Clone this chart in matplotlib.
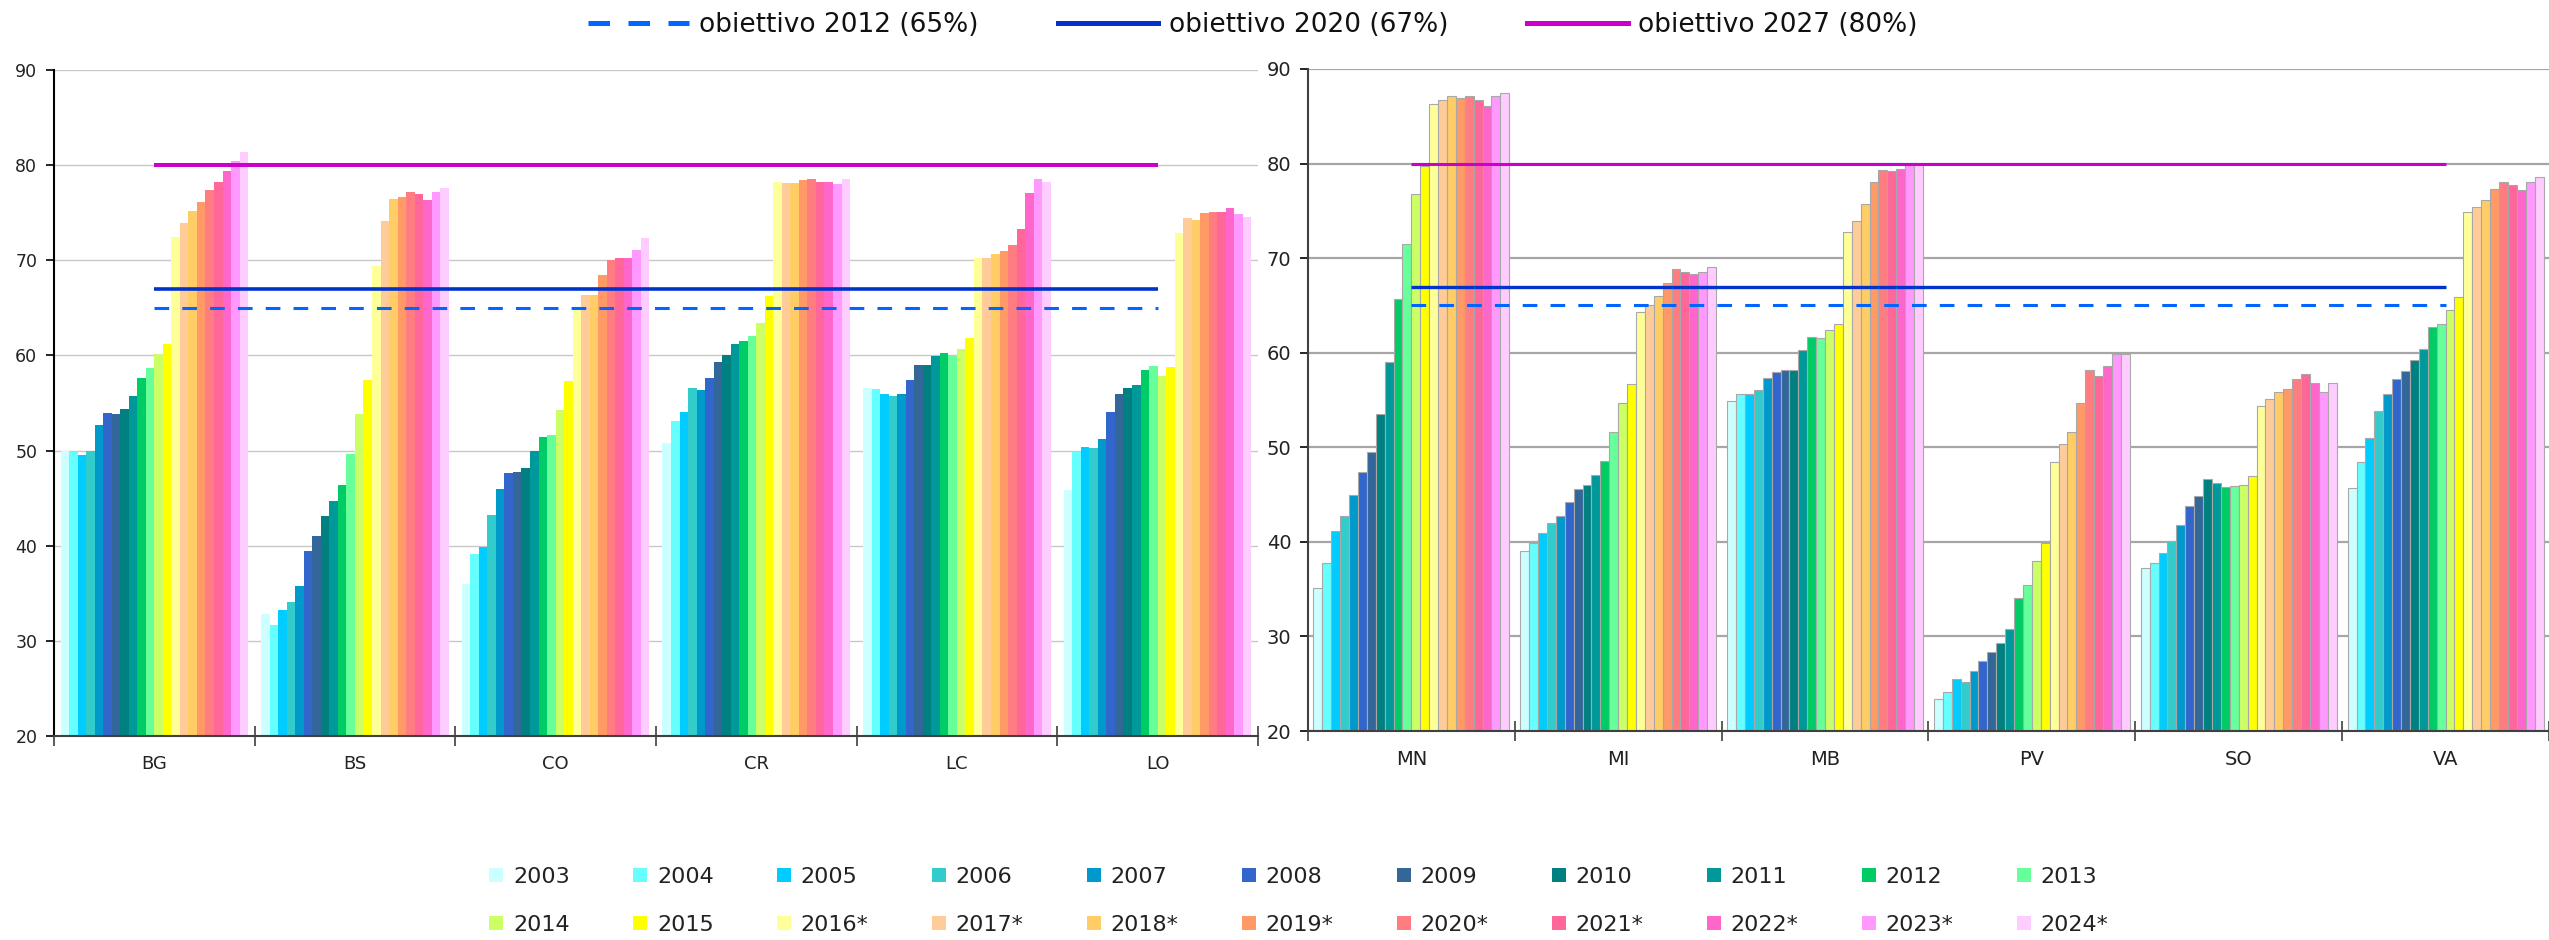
import matplotlib
matplotlib.use("Agg")
import matplotlib.pyplot as plt
import numpy as np
from matplotlib.lines import Line2D
from matplotlib.patches import Patch

years = ["2003", "2004", "2005", "2006", "2007", "2008", "2009", "2010", "2011",
         "2012", "2013", "2014", "2015", "2016*", "2017*", "2018*", "2019*",
         "2020*", "2021*", "2022*", "2023*", "2024*"]
year_colors = ["#CCFFFF", "#66FFFF", "#00CCFF", "#33CCCC", "#0099CC", "#3366CC",
               "#336699", "#008080", "#009999", "#00CC66", "#66FF99", "#CCFF66",
               "#FFFF00", "#FFFF99", "#FFCC99", "#FFCC66", "#FF9966", "#FF7C80",
               "#FF6699", "#FF66CC", "#FF99FF", "#FFCCFF"]

left_cats = ["BG", "BS", "CO", "CR", "LC", "LO"]
right_cats = ["MN", "MI", "MB", "PV", "SO", "VA"]

bg = [50.0, 49.8, 49.5, 50.0, 52.7, 53.9, 53.8, 54.4, 55.7, 57.6, 58.7, 60.2, 61.2,
      72.4, 73.9, 75.2, 76.1, 77.4, 78.2, 79.4, 80.4, 81.4]
bs = [32.8, 31.7, 33.2, 34.1, 35.8, 39.4, 41.0, 43.1, 44.7, 46.4, 49.6, 53.8, 57.4,
      69.4, 74.1, 76.4, 76.7, 77.2, 77.0, 76.3, 77.2, 77.6]
co = [36.0, 39.1, 39.9, 43.2, 46.0, 47.6, 47.8, 48.2, 50.0, 51.4, 51.6, 54.3, 57.3,
      64.8, 66.4, 66.4, 68.5, 70.0, 70.2, 70.2, 71.1, 72.3]
cr = [50.8, 53.1, 54.1, 56.6, 56.4, 57.6, 59.3, 60.0, 61.2, 61.5, 62.0, 63.4, 66.2,
      78.2, 78.1, 78.1, 78.4, 78.5, 78.2, 78.2, 78.0, 78.5]
lc = [56.6, 56.5, 55.9, 55.7, 55.9, 57.4, 59.0, 59.0, 59.9, 60.3, 60.1, 60.7, 61.8,
      70.2, 70.2, 70.7, 71.0, 71.6, 73.3, 77.1, 78.5, 78.2]
lo = [45.9, 49.9, 50.4, 50.3, 51.2, 54.1, 55.9, 56.6, 56.9, 58.5, 58.9, 57.8, 58.8,
      72.9, 74.4, 74.2, 75.0, 75.1, 75.1, 75.5, 74.9, 74.6]

mn = [35.1, 37.8, 41.2, 42.7, 45.0, 47.4, 49.5, 53.5, 59.0, 65.7, 71.5, 76.8, 79.7,
      86.3, 86.7, 87.1, 86.9, 87.1, 86.7, 86.1, 87.1, 87.5]
mi = [39.0, 39.9, 40.9, 42.0, 42.7, 44.2, 45.6, 46.0, 47.1, 48.6, 51.6, 54.7, 56.7,
      64.3, 65.0, 66.0, 67.4, 68.9, 68.5, 68.3, 68.5, 69.1]
mb = [54.9, 55.6, 55.6, 56.1, 57.3, 58.0, 58.2, 58.2, 60.3, 61.7, 61.6, 62.4, 63.0,
      72.8, 73.9, 75.7, 78.1, 79.3, 79.2, 79.4, 79.8, 80.0]
pv = [23.4, 24.1, 25.5, 25.2, 26.3, 27.4, 28.4, 29.3, 30.8, 34.1, 35.4, 38.0, 39.9,
      48.4, 50.3, 51.6, 54.7, 58.2, 57.5, 58.6, 59.9, 59.9]
so = [37.2, 37.8, 38.8, 40.1, 41.8, 43.8, 44.9, 46.6, 46.2, 45.8, 45.9, 46.0, 47.0,
      54.4, 55.1, 55.8, 56.2, 57.2, 57.7, 56.8, 55.8, 56.8]
va = [45.7, 48.4, 51.0, 53.8, 55.6, 57.2, 58.1, 59.2, 60.4, 62.7, 63.0, 64.5, 65.9,
      74.9, 75.4, 76.2, 77.3, 78.1, 77.7, 77.2, 78.1, 78.6]

left_values = [bg, bs, co, cr, lc, lo]
right_values = [mn, mi, mb, pv, so, va]

target_labels = ["obiettivo 2012 (65%)", "obiettivo 2020 (67%)", "obiettivo 2027 (80%)"]
target_values = [65, 67, 80]
target_colors = ["#0066FF", "#0033CC", "#CC00CC"]


def draw_panel(ax, cats, values, group_width, edge, grid_color, grid_lw,
               tick_size, cat_size, line_widths):
    x = np.arange(len(cats))
    n = len(years)
    w = group_width / n
    for j in range(n):
        heights = [values[c][j] for c in range(len(cats))]
        ax.bar(x + (j - (n - 1) / 2) * w, heights, width=w, color=year_colors[j],
               edgecolor=edge, linewidth=0.8 if edge != "none" else 0, zorder=2)

    for k, (val, col) in enumerate(zip(target_values, target_colors)):
        ls = (0, (4.8, 4.3)) if k == 0 else "-"
        ax.plot(x, [val] * len(x), color=col, lw=line_widths[k], ls=ls, zorder=3,
                solid_capstyle="butt")

    ax.set_xlim(-0.5, len(cats) - 0.5)
    ax.set_ylim(20, 90)
    ax.set_yticks(range(20, 91, 10))
    ax.set_xticks(x)
    ax.set_xticklabels(cats, fontsize=cat_size, color="#222222")
    ax.set_xticks(np.arange(len(cats) + 1) - 0.5, minor=True)
    ax.tick_params(axis="x", which="major", length=0, pad=14)
    ax.tick_params(axis="x", which="minor", length=14, direction="inout",
                   width=1.2, color="#404040")
    ax.tick_params(axis="y", length=6, width=1.2, labelsize=tick_size,
                   labelcolor="#222222", pad=6)
    ax.grid(axis="y", color=grid_color, lw=grid_lw, zorder=0)
    ax.set_axisbelow(True)
    for s in ["top", "right"]:
        ax.spines[s].set_visible(False)
    ax.spines["bottom"].set_color("#404040")
    ax.spines["bottom"].set_linewidth(1.5)
    ax.spines["left"].set_linewidth(1.5)


fig = plt.figure(figsize=(25.49, 9.40), dpi=100)
ax_l = fig.add_axes([0.02118, 0.2170, 0.4723, 0.7085])
ax_r = fig.add_axes([0.5131, 0.2223, 0.4869, 0.7043])

draw_panel(ax_l, left_cats, left_values, 0.935, "none", "#C8C8C8", 1.0,
           12.5, 13, [2.2, 2.6, 2.9])
ax_l.spines["left"].set_color("black")
draw_panel(ax_r, right_cats, right_values, 0.947, "#A8A8A8", "#A6A6A6", 1.6,
           14, 14, [2.2, 2.4, 2.2])
ax_r.spines["left"].set_color("#404040")

# legend on top for the targets
top_handles = [
    Line2D([], [], color=target_colors[0], lw=3.6, ls=(0, (4.3, 3.7))),
    Line2D([], [], color=target_colors[1], lw=3.6),
    Line2D([], [], color=target_colors[2], lw=3.6),
]
fig.legend(top_handles, target_labels, loc="center", bbox_to_anchor=(0.4916, 0.973),
           ncol=3, frameon=False, fontsize=19, handlelength=3.8, handletextpad=0.4,
           columnspacing=3.0, labelcolor="#111111")

# legend at the bottom for the years, filled row by row (11 per row)
year_handles = [Patch(facecolor=c, edgecolor="none") for c in year_colors]
ncols = 11
order = [r * ncols + c for c in range(ncols) for r in range(2)]
fig.legend([year_handles[i] for i in order], [years[i] for i in order],
           loc="center", bbox_to_anchor=(0.5096, 0.0415),
           ncol=ncols, frameon=False, fontsize=16, handlelength=0.62, handleheight=0.62,
           handletextpad=0.45, columnspacing=2.85, labelspacing=1.25,
           labelcolor="#222222")

fig.savefig("out.png", dpi=100)
